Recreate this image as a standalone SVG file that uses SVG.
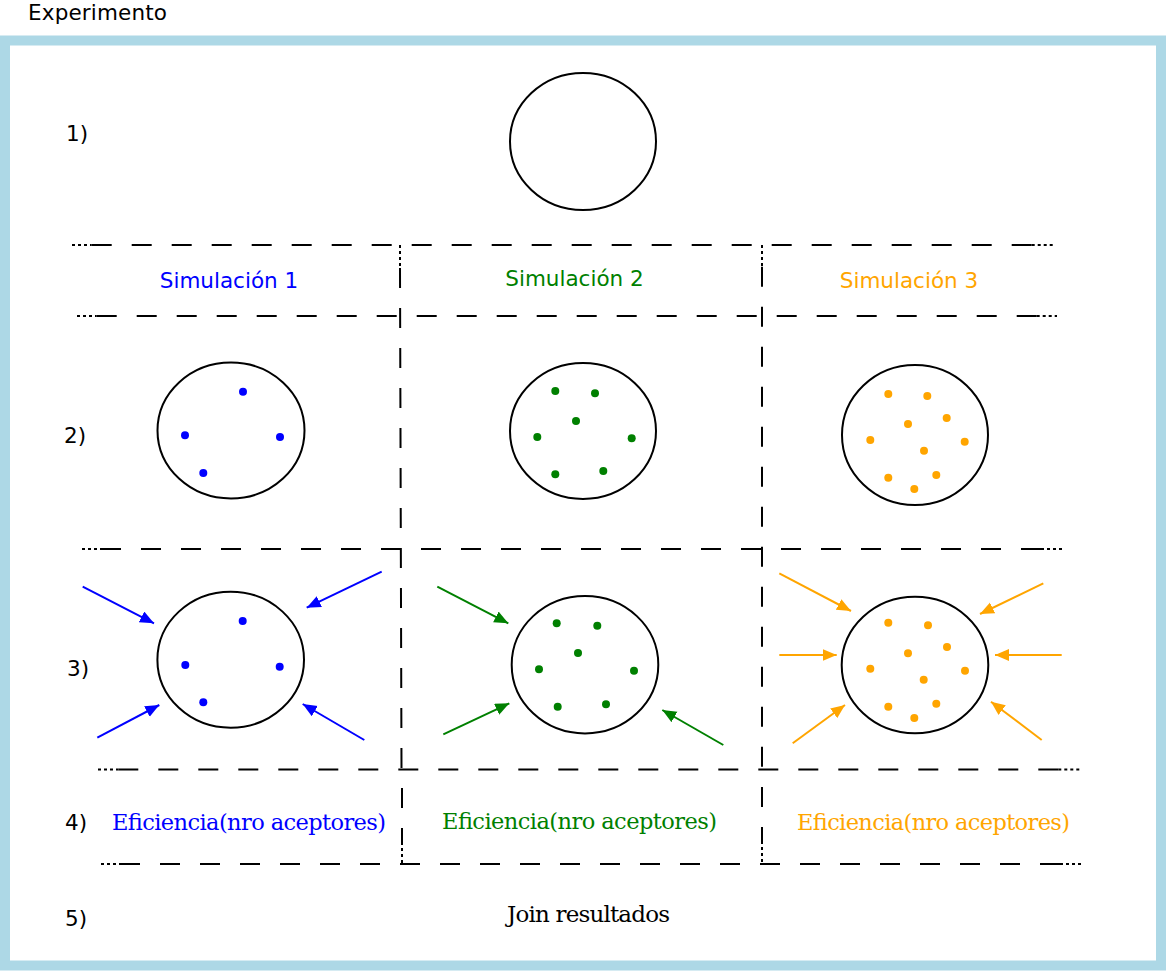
<svg xmlns="http://www.w3.org/2000/svg" width="1167" height="971" viewBox="0 0 1167 971">
<style>
.sans{font-family:"DejaVu Sans","Liberation Sans",sans-serif;font-size:21.5px;fill:#000}
.serif{font-family:"DejaVu Serif","Liberation Serif",serif;font-size:22.5px;fill:#000}
.grid path{stroke:#000;stroke-width:2;fill:none}
.grid path.d{stroke-dasharray:20 20}
.grid path.p{stroke-dasharray:3 3;stroke-width:2}
.circ{fill:#fff;stroke:#000;stroke-width:2}
.b{fill:#0000ff}.g{fill:#008000}.o{fill:#ffa500}
.lb{stroke:#0000ff}.lg{stroke:#008000}.lo{stroke:#ffa500}
.conn line{stroke-width:2;fill:none}
</style>
<defs>
<marker id="ab" markerUnits="userSpaceOnUse" markerWidth="15" markerHeight="13" refX="14" refY="6" orient="auto"><path d="M0,0 L14,6 L0,12 z" fill="#0000ff"/></marker>
<marker id="ag" markerUnits="userSpaceOnUse" markerWidth="15" markerHeight="13" refX="14" refY="6" orient="auto"><path d="M0,0 L14,6 L0,12 z" fill="#008000"/></marker>
<marker id="ao" markerUnits="userSpaceOnUse" markerWidth="15" markerHeight="13" refX="14" refY="6" orient="auto"><path d="M0,0 L14,6 L0,12 z" fill="#ffa500"/></marker>
</defs>
<rect x="0" y="0" width="1167" height="971" fill="#fff"/>
<rect x="5" y="40.5" width="1156" height="925" fill="#fff" stroke="#add8e6" stroke-width="10"/>
<text class="sans" x="28" y="20" textLength="139">Experimento</text>

<g id="grid" class="grid">
<path class="p" d="M72,245 H91.7"/><path class="d" d="M91.7,245 H1031.7"/><path class="p" d="M1031.7,245 H1053"/>
<path class="p" d="M77,316 H96.7"/><path class="d" d="M96.7,316 H1036.7"/><path class="p" d="M1036.7,316 H1057"/>
<path class="p" d="M82,549 H101"/><path class="d" d="M101,549 H1041"/><path class="p" d="M1041,549 H1062"/>
<path class="p" d="M98,769.5 H118.3"/><path class="d" d="M118.3,769.5 H1058.3"/><path class="p" d="M1058.3,769.5 H1080"/>
<path class="p" d="M101,864 H120"/><path class="d" d="M120,864 H1060"/><path class="p" d="M1060,864 H1081"/>
<path class="p" d="M400,245 V268"/><path class="d" d="M400,268 L401.5,769.5"/>
<path class="p" d="M762,245 V266.7"/><path class="d" d="M762,266.7 V769.5"/>
<path class="d" d="M402,788 V842"/><path class="p" d="M402,842 V864"/>
<path class="d" d="M762,787 V841"/><path class="p" d="M762,841 V864"/>
</g>

<g id="labels">
<text class="sans" x="66" y="141">1)</text>
<text class="sans" x="64" y="443">2)</text>
<text class="sans" x="67" y="676">3)</text>
<text class="sans" x="65" y="830">4)</text>
<text class="sans" x="65" y="926">5)</text>
<text class="sans" x="229" y="288" text-anchor="middle" style="fill:#0000ff">Simulación 1</text>
<text class="sans" x="574.5" y="286" text-anchor="middle" style="fill:#008000">Simulación 2</text>
<text class="sans" x="909" y="288" text-anchor="middle" style="fill:#ffa500">Simulación 3</text>
<text class="serif" x="112" y="830" textLength="274" style="fill:#0000ff">Eficiencia(nro aceptores)</text>
<text class="serif" x="442" y="829" textLength="275" style="fill:#008000">Eficiencia(nro aceptores)</text>
<text class="serif" x="797" y="830" textLength="273" style="fill:#ffa500">Eficiencia(nro aceptores)</text>
<text class="serif" x="507" y="922" textLength="163" style="font-size:23px">Join resultados</text>
</g>

<g id="n1"><ellipse class="circ" cx="583" cy="141.5" rx="73" ry="68.5"/></g>

<g id="n2a"><ellipse class="circ" cx="231" cy="430.5" rx="73.5" ry="68"/>
<g class="b"><circle cx="243" cy="391.7" r="4"/><circle cx="185" cy="435.3" r="4"/><circle cx="280" cy="437" r="4"/><circle cx="203.3" cy="473" r="4"/></g></g>

<g id="n2b"><ellipse class="circ" cx="583" cy="431" rx="73" ry="68"/>
<g class="g"><circle cx="555.3" cy="391" r="4"/><circle cx="595" cy="393.3" r="4"/><circle cx="576" cy="421" r="4"/><circle cx="537.3" cy="437" r="4"/><circle cx="631.7" cy="438.3" r="4"/><circle cx="555.3" cy="474.3" r="4"/><circle cx="603.3" cy="471" r="4"/></g></g>

<g id="n2c"><ellipse class="circ" cx="915" cy="435" rx="73" ry="70"/>
<g class="o"><circle cx="888.3" cy="394" r="4"/><circle cx="927.3" cy="396" r="4"/><circle cx="946.7" cy="418" r="4"/><circle cx="908" cy="424" r="4"/><circle cx="870.3" cy="440" r="4"/><circle cx="964.7" cy="441.7" r="4"/><circle cx="924" cy="450.7" r="4"/><circle cx="888.3" cy="477.7" r="4"/><circle cx="936.3" cy="475" r="4"/><circle cx="914.3" cy="489" r="4"/></g></g>

<g id="n3a"><ellipse class="circ" cx="230.7" cy="659.7" rx="73.3" ry="68"/>
<g class="b"><circle cx="242.7" cy="621" r="4"/><circle cx="185.3" cy="665" r="4"/><circle cx="279.7" cy="666.7" r="4"/><circle cx="203.3" cy="702.3" r="4"/></g></g>

<g id="n3b"><ellipse class="circ" cx="585" cy="664.7" rx="73.3" ry="68.7"/>
<g class="g"><circle cx="556.7" cy="623.3" r="4"/><circle cx="597.3" cy="625.7" r="4"/><circle cx="578" cy="653" r="4"/><circle cx="539" cy="669.3" r="4"/><circle cx="634" cy="670.7" r="4"/><circle cx="557.7" cy="706.7" r="4"/><circle cx="606" cy="704.3" r="4"/></g></g>

<g id="n3c"><ellipse class="circ" cx="915" cy="665" rx="73.3" ry="68.3"/>
<g class="o"><circle cx="888.3" cy="622.7" r="4"/><circle cx="928" cy="625.3" r="4"/><circle cx="947" cy="647" r="4"/><circle cx="908" cy="653.3" r="4"/><circle cx="870.3" cy="668.7" r="4"/><circle cx="965" cy="670.7" r="4"/><circle cx="923.7" cy="679.7" r="4"/><circle cx="888.3" cy="706.7" r="4"/><circle cx="936.3" cy="703.7" r="4"/><circle cx="914.3" cy="718" r="4"/></g></g>

<g id="connectors" class="conn">
<line class="lb" x1="82.7" y1="586.7" x2="154" y2="623.3" marker-end="url(#ab)"/>
<line class="lb" x1="381.7" y1="571.7" x2="306.7" y2="607.7" marker-end="url(#ab)"/>
<line class="lb" x1="97.3" y1="737.7" x2="159.3" y2="705" marker-end="url(#ab)"/>
<line class="lb" x1="364.3" y1="740" x2="302.7" y2="704" marker-end="url(#ab)"/>
<line class="lg" x1="437.3" y1="586.7" x2="508.3" y2="623.3" marker-end="url(#ag)"/>
<line class="lg" x1="443.3" y1="734.3" x2="509.3" y2="703.3" marker-end="url(#ag)"/>
<line class="lg" x1="723.3" y1="745" x2="662.3" y2="710" marker-end="url(#ag)"/>
<line class="lo" x1="779.3" y1="573.3" x2="851" y2="611" marker-end="url(#ao)"/>
<line class="lo" x1="1043.3" y1="583.3" x2="980" y2="614" marker-end="url(#ao)"/>
<line class="lo" x1="779.3" y1="655" x2="836.7" y2="655" marker-end="url(#ao)"/>
<line class="lo" x1="1061.7" y1="655" x2="995" y2="655" marker-end="url(#ao)"/>
<line class="lo" x1="792.7" y1="743.3" x2="845" y2="705" marker-end="url(#ao)"/>
<line class="lo" x1="1041.7" y1="740" x2="991" y2="701.7" marker-end="url(#ao)"/>
</g>
</svg>
